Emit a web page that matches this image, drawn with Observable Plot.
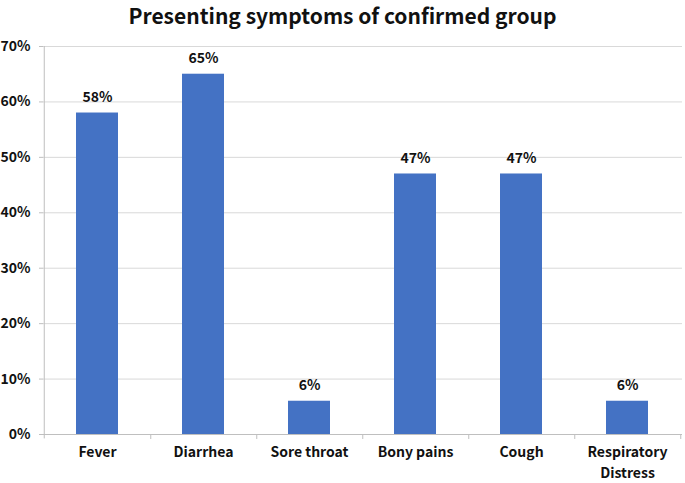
<!DOCTYPE html>
<html>
<head>
<meta charset="utf-8">
<script src="https://cdn.jsdelivr.net/npm/d3@7"></script>
<script src="https://cdn.jsdelivr.net/npm/@observablehq/plot@0.6"></script>
<style>
  body { margin: 0; background: #fff; }
  #title { font-family: "Noto Sans CJK JP", "Noto Sans", sans-serif; font-weight: bold; font-size: 21px; text-align: center; height: 28px; padding-top: 2px; line-height: 26px; color: #111; width: 685px; }
  svg { display: block; }
</style>
</head>
<body>
<div id="title">Presenting symptoms of confirmed group</div>
<div id="chart"></div>
<script>
const categories = ["Fever", "Diarrhea", "Sore throat", "Bony pains", "Cough", "Respiratory\nDistress"];
const values = [58, 65, 6, 47, 47, 6];
const yTicks = [0, 10, 20, 30, 40, 50, 60, 70];

const data = categories.map((c, i) => ({category: c, value: values[i]}));
const W = 685, H = 453, ML = 43, MR = 3;
const step = (W - ML - MR) / categories.length;
const font = "'Noto Sans CJK JP', 'Noto Sans', sans-serif";

const chart = Plot.plot({
  width: W,
  height: H,
  marginLeft: ML,
  marginRight: MR,
  marginTop: 16,
  marginBottom: 49,
  style: {fontFamily: font, fontSize: "14px", fontWeight: "bold", color: "#111", overflow: "visible"},
  x: {domain: categories, paddingInner: 0.6, paddingOuter: 0.3, axis: null},
  y: {domain: [0, 70], axis: null},
  marks: [
    Plot.ruleY(yTicks.filter(d => d > 0), {stroke: "#d9d9d9", strokeWidth: 1}),
    Plot.axisY({ticks: yTicks, tickFormat: d => d + "%", tickSize: 4, tickPadding: 9, stroke: "#bfbfbf", fill: "#111", fontSize: 14, fontWeight: "bold", label: null}),
    Plot.ruleY([0], {stroke: "#bfbfbf"}),
    Plot.ruleX([categories[0]], {dx: -step / 2, y1: -0.8, y2: 70, stroke: "#bfbfbf"}),
    Plot.ruleX(categories, {dx: step / 2, y1: -0.9, y2: 0, stroke: "#bfbfbf"}),
    Plot.barY(data, {x: "category", y: "value", fill: "#4472C4"}),
    Plot.text(data, {x: "category", y: "value", text: d => d.value + "%", lineAnchor: "bottom", dy: -11, fontSize: 14, fontWeight: "bold", fill: "#111"}),
    Plot.text(categories, {x: d => d, y: 0, text: d => d, lineAnchor: "top", dy: 8, lineHeight: 1.5, fontSize: 14, fontWeight: "bold", fill: "#111"})
  ]
});
document.getElementById("chart").appendChild(chart);
</script>
</body>
</html>
